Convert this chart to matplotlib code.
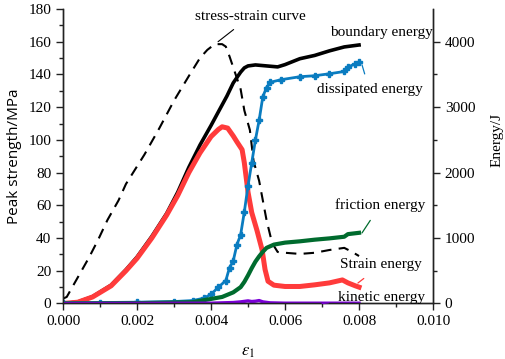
import matplotlib
matplotlib.use('Agg')
import matplotlib.pyplot as plt

plt.rcParams['font.family'] = 'Liberation Serif'
plt.rcParams['mathtext.fontset'] = 'stix'

# stress-strain curve (left axis, MPa)
ss_strain = [0.0, 0.0001, 0.0003, 0.0007, 0.00095, 0.0012, 0.0015, 0.0017, 0.0022, 0.0026,
             0.003, 0.0034, 0.0037, 0.0039, 0.0041, 0.0043, 0.0044, 0.0045, 0.00465, 0.0048,
             0.0049, 0.00505, 0.00515, 0.0053, 0.0055, 0.00565, 0.0058, 0.006, 0.0064, 0.0068,
             0.0072, 0.0076, 0.0078, 0.008]
ss_stress = [3, 4, 12, 28, 39, 51, 63, 73, 91, 107,
             124, 139, 150, 155, 158.5, 158.5, 157, 151, 141, 131,
             118, 106, 87, 75, 51, 37, 31.5, 31, 30.3, 31,
             32.7, 34, 31.7, 29]

# energies (right axis, J)
strain_x = [0.0, 0.0004, 0.0008, 0.0013, 0.0017, 0.002, 0.0024, 0.0028, 0.0031, 0.0034,
            0.0037, 0.004, 0.0042, 0.0043, 0.00445, 0.0046, 0.0047, 0.00484, 0.0049, 0.005,
            0.0051, 0.00524, 0.00538, 0.00546, 0.00554, 0.0057, 0.006, 0.0064, 0.0068, 0.0072,
            0.00755, 0.0077, 0.0079, 0.008]
strain_e = [0, 20, 100, 270, 500, 690, 1000, 1350, 1650, 2000,
            2300, 2550, 2660, 2700, 2680, 2560, 2470, 2350, 2150, 1700,
            1390, 1120, 820, 520, 340, 280, 260, 260, 285, 315,
            360, 315, 270, 250]

bound_x = [0.0, 0.0004, 0.0008, 0.0013, 0.0017, 0.002, 0.0024, 0.0028, 0.0031, 0.0034,
           0.0037, 0.004, 0.0042, 0.00443, 0.0046, 0.0048, 0.0049, 0.005, 0.0052, 0.0055,
           0.0058, 0.006, 0.0064, 0.0068, 0.0072, 0.0076, 0.008]
bound_e = [0, 22, 105, 280, 515, 710, 1025, 1375, 1700, 2080,
           2420, 2720, 2930, 3170, 3370, 3535, 3600, 3630, 3645, 3630,
           3615, 3650, 3740, 3790, 3860, 3920, 3950]

diss_x = [0.0, 0.001, 0.002, 0.003, 0.0035, 0.0038, 0.004, 0.0042, 0.0044, 0.0045,
          0.0046, 0.0047, 0.0048, 0.0049, 0.005, 0.0051, 0.0052, 0.0053, 0.0054, 0.0055,
          0.0056, 0.0059, 0.0064, 0.0068, 0.0072, 0.0076, 0.0077, 0.0079, 0.008]
diss_e = [10, 15, 20, 30, 45, 80, 140, 250, 350, 550,
          650, 900, 1050, 1400, 1800, 2150, 2500, 2800, 3160, 3300,
          3380, 3420, 3465, 3480, 3510, 3545, 3615, 3660, 3690]

fric_x = [0.0, 0.002, 0.0035, 0.0038, 0.0043, 0.0046, 0.0048, 0.0049, 0.005, 0.0051,
          0.0052, 0.0053, 0.0054, 0.0055, 0.0057, 0.006, 0.0064, 0.0068, 0.0072, 0.0076,
          0.0077, 0.008]
fric_e = [0, 5, 20, 50, 100, 170, 250, 330, 430, 540,
          640, 720, 790, 850, 900, 930, 950, 975, 995, 1020,
          1060, 1080]

kin_x = [0.0, 0.004, 0.0046, 0.0048, 0.005, 0.0051, 0.0052, 0.0053, 0.0054, 0.0056, 0.006, 0.008]
kin_e = [0, 5, 15, 25, 40, 30, 35, 45, 25, 10, 5, 5]

RED = '#ff3b3b'
BLUE = '#0a7cc0'
GREEN = '#006b2e'
PURPLE = '#7a00d6'

fig = plt.figure(figsize=(5.05, 3.59), dpi=100)
ax = fig.add_axes([0.1248, 0.1546, 0.7327, 0.8204])
ax2 = ax.twinx()

ax.plot(ss_strain, ss_stress, color='black', lw=1.5, ls=(0, (5, 3.5)))

ax2.plot(bound_x, bound_e, color='black', lw=2.6)
ax2.plot(strain_x, strain_e, color=RED, lw=3.6)
ax2.plot(diss_x, diss_e, color=BLUE, lw=2.0, marker='P', ms=4.5)
ax2.plot(fric_x, fric_e, color=GREEN, lw=3.0)
ax2.plot(kin_x, kin_e, color=PURPLE, lw=2.4)

ax.set_xlim(0, 0.010)
ax.set_ylim(0, 180)
ax2.set_ylim(0, 4500)

ax.set_xticks([0.000, 0.002, 0.004, 0.006, 0.008, 0.010])
ax.set_xticklabels(['0.000', '0.002', '0.004', '0.006', '0.008', '0.010'])
ax.set_xticks([0.001, 0.003, 0.005, 0.007, 0.009], minor=True)
ax.set_yticks(range(0, 181, 20))
ax.set_yticks(range(10, 180, 20), minor=True)
ax2.set_yticks([0, 1000, 2000, 3000, 4000])
ax2.set_yticks([500, 1500, 2500, 3500], minor=True)

for a in (ax, ax2):
    a.spines['top'].set_visible(False)
    for s in a.spines.values():
        s.set_color('#222222')
        s.set_linewidth(1.0)
    a.tick_params(which='major', direction='out', length=5, width=1.0, labelsize=11, colors='#222222')
    a.tick_params(which='minor', direction='out', length=3, width=1.0, colors='#222222')
    a.tick_params(labelcolor='black')

ax.set_xlabel(r'$\varepsilon_1$', fontsize=12, labelpad=11)
ax.set_ylabel('Peak strength/MPa', fontsize=11, family='Open Sans')
ax.yaxis.set_label_coords(-0.13, 0.5)
ax.yaxis.label.set_va('center')
ax2.set_ylabel('Energy/J', fontsize=11)
ax2.yaxis.set_label_coords(1.173, 0.555)
ax2.yaxis.label.set_va('center')

# annotations (text with leader lines)
ax.annotate('stress-strain curve', xy=(0.00419, 160), xytext=(0.00505, 175.2),
            fontsize=11, ha='center', va='center', annotation_clip=False,
            arrowprops=dict(arrowstyle='-', color='black', lw=0.8, shrinkA=4, shrinkB=0))
notes = [
    ('boundary energy', (0.00803, 3937), (0.00861, 4136), 'black'),
    ('dissipated energy', (0.00808, 3647), (0.00828, 3264), BLUE),
    ('friction energy', (0.00808, 1078), (0.00858, 1506), GREEN),
    ('Strain energy', (0.00797, 313), (0.0086, 589), RED),
    ('kinetic energy', (0.0070, 0), (0.00861, 99), PURPLE),
]
for txt, tip, pos, col in notes:
    ax2.annotate(txt, xy=tip, xytext=pos, fontsize=11, ha='center', va='center',
                 annotation_clip=False,
                 arrowprops=dict(arrowstyle='-', color=col, lw=0.9, shrinkA=5, shrinkB=0))

fig.savefig('out.png', dpi=100)
